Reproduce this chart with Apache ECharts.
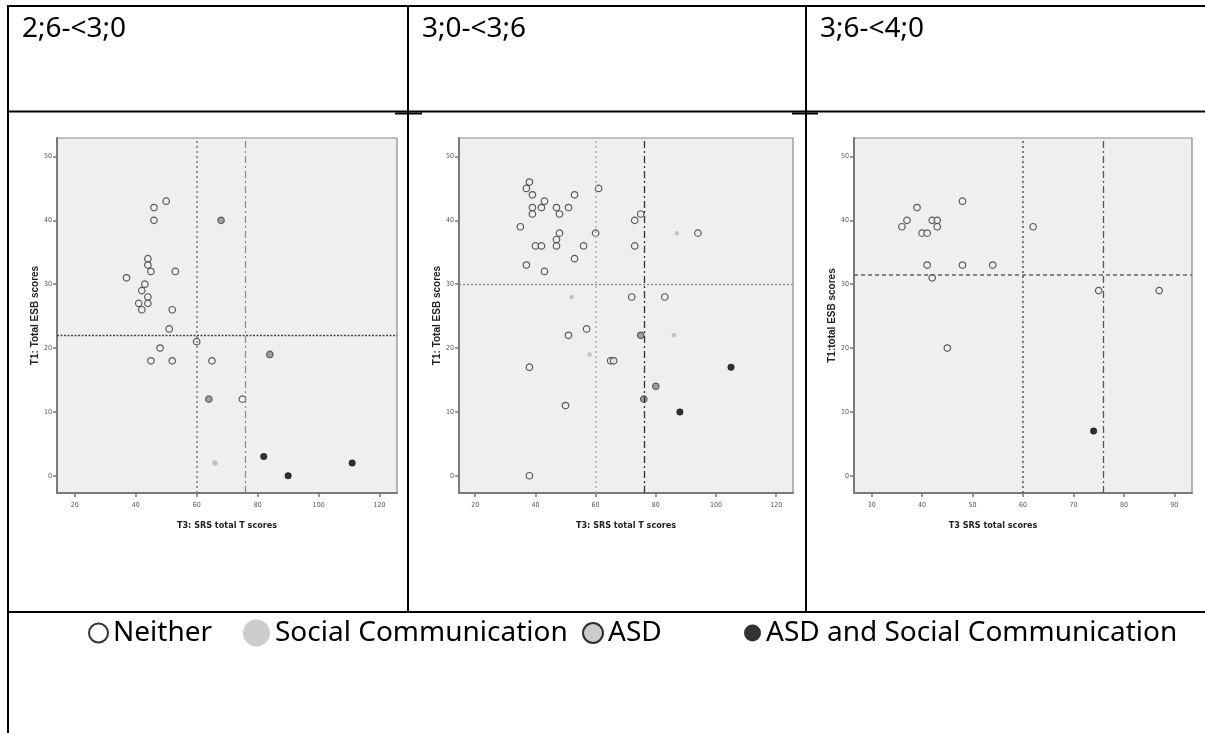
<!DOCTYPE html>
<html>
<head>
<meta charset="utf-8">
<script src="https://cdn.jsdelivr.net/npm/echarts@6/dist/echarts.min.js"></script>
<style>
html,body{margin:0;padding:0;background:#fff;}
#c{width:1205px;height:733px;}
</style>
</head>
<body>
<div id="c"></div>
<script>
// ---------- data ----------
const groupNames = ['Neither', 'Social Communication', 'ASD', 'ASD and Social Communication'];
const panelTitles = ['2;6-<3;0', '3;0-<3;6', '3;6-<4;0'];
const xAxisTitles = ['T3: SRS total T scores', 'T3: SRS total T scores', 'T3 SRS total scores'];
const yAxisTitles = ['T1: Total ESB scores', 'T1: Total ESB scores', 'T1:total ESB scores'];
const xTicks1 = [20, 40, 60, 80, 100, 120];
const xTicks2 = [20, 40, 60, 80, 100, 120];
const xTicks3 = [30, 40, 50, 60, 70, 80, 90];
const yTicks = [0, 10, 20, 30, 40, 50];

// panel 1 (2;6-<3;0)
const p1Neither = [[50,43],[46,42],[46,40],[44,34],[44,33],[45,32],[53,32],[37,31],[43,30],[42,29],[44,28],[41,27],[44,27],[42,26],[52,26],[51,23],[60,21],[48,20],[45,18],[52,18],[65,18],[75,12]];
const p1Social = [[66,2]];
const p1ASD = [[68,40],[84,19],[64,12]];
const p1Both = [[82,3],[90,0],[111,2]];
const p1RefX = [60, 76];
const p1RefY = [22];

// panel 2 (3;0-<3;6)
const p2Neither = [[38,46],[37,45],[39,44],[43,43],[53,44],[61,45],[39,42],[39,41],[42,42],[47,42],[48,41],[51,42],[75,41],[73,40],[35,39],[48,38],[60,38],[47,37],[40,36],[42,36],[47,36],[56,36],[73,36],[94,38],[53,34],[37,33],[43,32],[72,28],[83,28],[57,23],[51,22],[38,17],[65,18],[66,18],[50,11],[38,0]];
const p2Social = [[87,38],[52,28],[58,19],[86,22]];
const p2ASD = [[75,22],[76,12],[80,14]];
const p2Both = [[105,17],[88,10]];
const p2RefX = [60, 76];
const p2RefY = [30];

// panel 3 (3;6-<4;0)
const p3Neither = [[36,39],[37,40],[39,42],[40,38],[41,38],[42,40],[43,40],[43,39],[48,43],[41,33],[42,31],[48,33],[54,33],[45,20],[62,39],[75,29],[87,29]];
const p3Social = [];
const p3ASD = [];
const p3Both = [[74,7]];
const p3RefX = [60, 76];
const p3RefY = [31.5];

// ---------- layout / style ----------
const panels = [
  {grid:{left:57, top:138, width:340, height:355}, xMin:14.2, xMax:125.7, xTicks:xTicks1, titlePad:0,
   data:[p1Neither,p1Social,p1ASD,p1Both], refX:p1RefX, refY:p1RefY,
   refStyles:{x:[{color:'#777',type:[2,3],width:1.5},{color:'#888',type:[7,3,2,3],width:1.2}], y:[{color:'#444',type:[2,1.5],width:1.3}]}},
  {grid:{left:459, top:138, width:334, height:355}, xMin:14.6, xMax:125.6, xTicks:xTicks2, titlePad:0,
   data:[p2Neither,p2Social,p2ASD,p2Both], refX:p2RefX, refY:p2RefY,
   refStyles:{x:[{color:'#b0b0b0',type:[2,3],width:1.5},{color:'#333',type:[7,3,2,3],width:1.3}], y:[{color:'#888',type:[2,2],width:1.3}]}},
  {grid:{left:854, top:138, width:338, height:355}, xMin:26.5, xMax:93.5, xTicks:xTicks3, titlePad:60,
   data:[p3Neither,p3Social,p3ASD,p3Both], refX:p3RefX, refY:p3RefY,
   refStyles:{x:[{color:'#555',type:[2,3],width:1.5},{color:'#555',type:[7,3,2,3],width:1.3}], y:[{color:'#666',type:[4,3],width:1.5}]}}
];

const groupStyles = [
  {symbolSize:6.5, itemStyle:{color:'#f0f0f0', borderColor:'#333', borderWidth:1.2}},
  {symbolSize:5.5, itemStyle:{color:'#b5b5b5', borderWidth:0}},
  {symbolSize:6.5, itemStyle:{color:'#8a8a8a', borderColor:'#444', borderWidth:1.2}},
  {symbolSize:6.5, itemStyle:{color:'#000', borderColor:'#000', borderWidth:0.5}}
];

const narrow = '"DejaVu Sans Condensed", "Liberation Sans Narrow", sans-serif';
const grids = [], xAxes = [], yAxes = [], series = [];

panels.forEach((p, i) => {
  grids.push(Object.assign({show:true, backgroundColor:'#efefef', borderColor:'#8a8a8a', borderWidth:1.2}, p.grid));
  xAxes.push({
    type:'value', gridIndex:i, min:p.xMin, max:p.xMax,
    name:xAxisTitles[i], nameLocation:'middle', nameGap:28,
    nameTextStyle:{fontFamily:narrow, fontSize:9, fontWeight:'bold', color:'#222', padding:[0, p.titlePad, 0, 0]},
    axisLine:{show:true, onZero:false, lineStyle:{color:'#7a7a7a', width:2}},
    axisTick:{show:true, length:4, customValues:p.xTicks, lineStyle:{color:'#7a7a7a', width:1.5}},
    axisLabel:{customValues:p.xTicks, margin:9, fontFamily:narrow, fontSize:7, color:'#555'},
    splitLine:{show:false}
  });
  yAxes.push({
    type:'value', gridIndex:i, min:-2.7, max:52.9,
    name:yAxisTitles[i], nameLocation:'middle', nameGap:15, nameRotate:90,
    nameTextStyle:{fontFamily:'"Liberation Sans", Arial, sans-serif', fontSize:10, fontWeight:'bold', color:'#222'},
    axisLine:{show:true, onZero:false, lineStyle:{color:'#7a7a7a', width:2}},
    axisTick:{show:true, length:4, customValues:yTicks, lineStyle:{color:'#7a7a7a', width:1.5}},
    axisLabel:{customValues:yTicks, margin:5, fontFamily:narrow, fontSize:7, color:'#555'},
    splitLine:{show:false}
  });
  const markData = [];
  p.refX.forEach((v, k) => markData.push({xAxis:v, lineStyle:p.refStyles.x[k]}));
  p.refY.forEach((v, k) => markData.push({yAxis:v, lineStyle:p.refStyles.y[k]}));
  groupNames.forEach((g, k) => {
    const s = {
      type:'scatter', name:g, xAxisIndex:i, yAxisIndex:i,
      data:p.data[k], symbol:'circle',
      symbolSize:(i === 1 && k === 1) ? 4.5 : groupStyles[k].symbolSize,
      itemStyle:groupStyles[k].itemStyle, z:3
    };
    if (k === 0) {
      s.markLine = {silent:true, symbol:['none','none'], label:{show:false}, animation:false, data:markData};
    }
    series.push(s);
  });
});

// table lines and header texts
const lineStyle = {stroke:'#000', lineWidth:2};
const graphics = [
  {type:'line', shape:{x1:8, y1:6, x2:1205, y2:6}, style:lineStyle},
  {type:'line', shape:{x1:8, y1:5, x2:8, y2:733}, style:lineStyle},
  {type:'line', shape:{x1:408, y1:6, x2:408, y2:612}, style:lineStyle},
  {type:'line', shape:{x1:806, y1:6, x2:806, y2:612}, style:lineStyle},
  {type:'line', shape:{x1:8, y1:111.5, x2:1205, y2:111.5}, style:lineStyle},
  {type:'line', shape:{x1:395, y1:113.5, x2:422, y2:113.5}, style:lineStyle},
  {type:'line', shape:{x1:792, y1:113.5, x2:818, y2:113.5}, style:lineStyle},
  {type:'line', shape:{x1:8, y1:612, x2:1205, y2:612}, style:lineStyle}
];
const headerX = [22, 422, 820];
panelTitles.forEach((t, i) => {
  graphics.push({type:'text', x:headerX[i], y:29, style:{text:t, fill:'#000', font:'28px "Noto Sans", sans-serif', textVerticalAlign:'middle'}});
});

// legends (one per item to match spacing)
const legendFont = {fontFamily:'"Noto Sans", sans-serif', fontSize:28, color:'#000'};
const legendDefs = [
  {left:88, w:19, h:21, style:{color:'#fff', borderColor:'#000', borderWidth:2}},
  {left:243, w:27, h:27, style:{color:'#bfbfbf', borderWidth:0}},
  {left:582, w:20, h:21, style:{color:'#bfbfbf', borderColor:'#000', borderWidth:2}},
  {left:744, w:17, h:19, style:{color:'#000', borderWidth:0}}
];
const legends = legendDefs.map((d, k) => ({
  left:d.left, top:619, padding:0, itemWidth:d.w, itemHeight:d.h, itemGap:0,
  textStyle:legendFont, selectedMode:false,
  data:[{name:groupNames[k], icon:'circle', itemStyle:d.style}]
}));

const chart = echarts.init(document.getElementById('c'), null, {renderer:'canvas'});
chart.setOption({
  animation:false,
  backgroundColor:'#fff',
  grid:grids, xAxis:xAxes, yAxis:yAxes, series:series,
  legend:legends,
  graphic:graphics
});
</script>
</body>
</html>
